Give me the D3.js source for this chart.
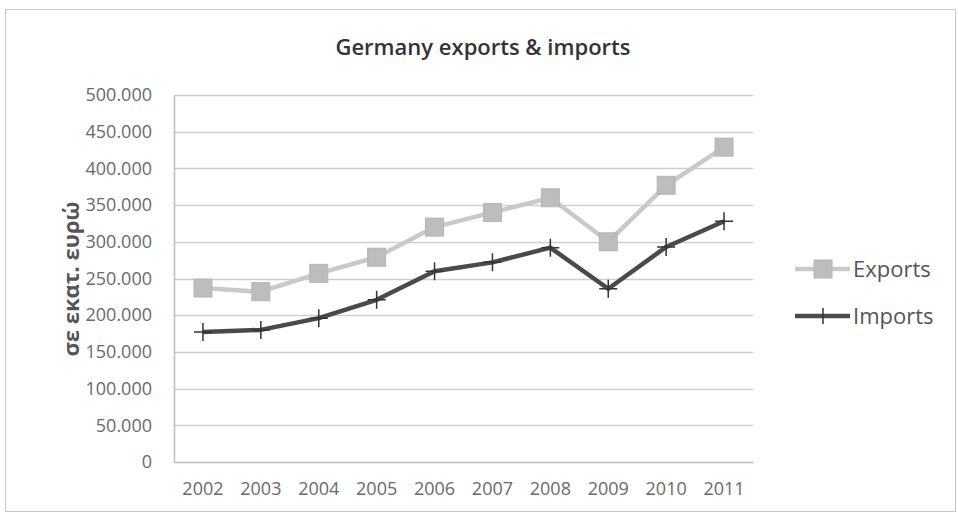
<!DOCTYPE html>
<html><head><meta charset="utf-8">
<script src="https://cdn.jsdelivr.net/npm/d3@7"></script>
<style>body{margin:0;background:#fff}svg{display:block}</style>
</head><body>
<svg id="c" width="958" height="513"></svg>
<script>
const years = ["2002","2003","2004","2005","2006","2007","2008","2009","2010","2011"];
const exportsVals = [237000,232000,257000,279000,320000,340000,360000,300000,377000,429000];
const importsVals = [177000,180000,196000,221000,260000,272000,292000,236000,293000,328000];
const yTicks = [0,50000,100000,150000,200000,250000,300000,350000,400000,450000,500000];
const title = "Germany exports & imports";
const yLabel = "σε εκατ. ευρώ";
const seriesNames = ["Exports","Imports"];

const svg = d3.select("#c");
const font = "'Open Sans', 'Noto Sans', sans-serif";
const M = {l:174, r:753, t:95, b:462};

// outer frame
svg.append("rect").attr("x",5.5).attr("y",9.5).attr("width",950).attr("height",502)
  .attr("fill","#fff").attr("stroke","#c8c8c8").attr("stroke-width",1);

const x = d3.scaleBand().domain(years).range([M.l,M.r]);
const y = d3.scaleLinear().domain([0,500000]).range([M.b,M.t]);
const fmt = v => v===0 ? "0" : d3.format(",")(v).replace(/,/g,".");

// gridlines
svg.append("g").selectAll("line").data(yTicks.filter(d=>d>0)).join("line")
  .attr("x1",M.l).attr("x2",M.r).attr("y1",d=>Math.round(y(d))+0.5).attr("y2",d=>Math.round(y(d))+0.5)
  .attr("stroke","#cfcfcf").attr("stroke-width",1.5);

// y axis
const ya = svg.append("g").attr("transform",`translate(${M.l},0)`)
  .call(d3.axisLeft(y).tickValues(yTicks).tickFormat(fmt).tickSize(0).tickPadding(22));
ya.select(".domain").attr("stroke","#bdbdbd").attr("stroke-width",1.5);
ya.selectAll("text").attr("font-family",font).attr("font-size",18).attr("fill","#6a6a6a");

// x axis
const xa = svg.append("g").attr("transform",`translate(0,${M.b})`)
  .call(d3.axisBottom(x).tickSize(0).tickPadding(20));
xa.select(".domain").attr("stroke","#bdbdbd").attr("stroke-width",1.5);
xa.selectAll("text").attr("font-family",font).attr("font-size",18).attr("fill","#6a6a6a");

// title
svg.append("text").attr("x",483).attr("y",55).attr("text-anchor","middle")
  .attr("font-family",font).attr("font-size",22).attr("font-weight",600).attr("fill","#333").text(title);

// y label
svg.append("text").attr("transform","translate(79,279) rotate(-90)").attr("text-anchor","middle")
  .attr("font-family",font).attr("font-size",22).attr("font-weight","bold").attr("fill","#555").text(yLabel);

const cx = d => x(d)+x.bandwidth()/2;
const line = d3.line().x(d=>cx(d[0])).y(d=>y(d[1]));

const expData = years.map((d,i)=>[d,exportsVals[i]]);
const impData = years.map((d,i)=>[d,importsVals[i]]);

svg.append("path").datum(expData).attr("d",line).attr("fill","none")
  .attr("stroke","#c9c9c9").attr("stroke-width",4.5).attr("stroke-linejoin","round");
svg.append("g").selectAll("rect").data(expData).join("rect")
  .attr("x",d=>cx(d[0])-9).attr("y",d=>y(d[1])-9).attr("width",18).attr("height",18)
  .attr("fill","#bdbdbd").attr("stroke","#b5b5b5");

svg.append("path").datum(impData).attr("d",line).attr("fill","none")
  .attr("stroke","#4a4a4a").attr("stroke-width",4.5).attr("stroke-linejoin","round");
svg.append("g").selectAll("path.m").data(impData).join("path")
  .attr("d",d=>{const a=cx(d[0]),b=y(d[1]);return `M${a},${b-9}V${b+9}M${a-9},${b}H${a+9}`;})
  .attr("stroke","#333").attr("stroke-width",1.5);

// legend
const lg = svg.append("g");
const ly = [269,316];
lg.append("line").attr("x1",795).attr("x2",850).attr("y1",ly[0]).attr("y2",ly[0]).attr("stroke","#c9c9c9").attr("stroke-width",4.5);
lg.append("rect").attr("x",823-9).attr("y",ly[0]-9).attr("width",18).attr("height",18).attr("fill","#bdbdbd").attr("stroke","#b5b5b5");
lg.append("line").attr("x1",795).attr("x2",850).attr("y1",ly[1]).attr("y2",ly[1]).attr("stroke","#4a4a4a").attr("stroke-width",4.5);
lg.append("path").attr("d",`M823,${ly[1]-8}V${ly[1]+8}`).attr("stroke","#333").attr("stroke-width",1.5);
seriesNames.forEach((n,i)=>{
  lg.append("text").attr("x",853).attr("y",ly[i]).attr("dy","0.35em")
    .attr("font-family",font).attr("font-size",22).attr("fill","#555").text(n);
});
</script>
</body></html>
